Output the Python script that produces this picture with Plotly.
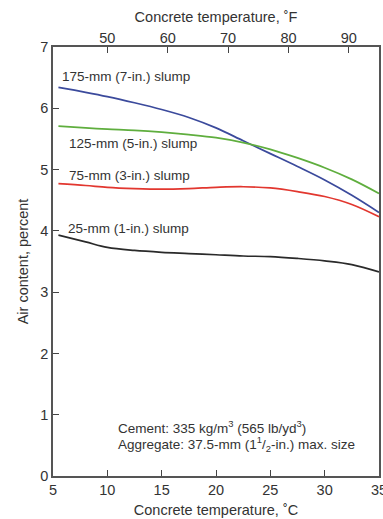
import plotly.graph_objects as go

temp_c = [5.5, 8, 10, 12.5, 15, 17.5, 20, 22.5, 25, 27.5, 30, 32.5, 35]
slump_175 = [6.34, 6.26, 6.19, 6.09, 5.98, 5.85, 5.68, 5.47, 5.26, 5.05, 4.83, 4.58, 4.30]
slump_125 = [5.71, 5.68, 5.66, 5.64, 5.61, 5.57, 5.52, 5.44, 5.33, 5.19, 5.03, 4.84, 4.61]
slump_75 = [4.77, 4.74, 4.71, 4.69, 4.68, 4.69, 4.71, 4.72, 4.70, 4.64, 4.56, 4.43, 4.23]
slump_25 = [3.93, 3.82, 3.73, 3.68, 3.65, 3.63, 3.61, 3.59, 3.58, 3.55, 3.51, 3.45, 3.33]

series_names = ["175-mm (7-in.) slump", "125-mm (5-in.) slump", "75-mm (3-in.) slump", "25-mm (1-in.) slump"]
series_vals = [slump_175, slump_125, slump_75, slump_25]
series_colors = ["#3b4a9c", "#5fae3e", "#e2372f", "#2a2a2a"]
label_pos = [(5.8, 6.52), (6.5, 5.43), (6.5, 4.91), (6.4, 4.04)]

c_ticks = [5, 10, 15, 20, 25, 30, 35]
f_ticks = [50, 60, 70, 80, 90]
y_ticks = [0, 1, 2, 3, 4, 5, 6, 7]

font = "Liberation Sans, Arial, sans-serif"
fig = go.Figure()
for name, vals, col in zip(series_names, series_vals, series_colors):
    fig.add_trace(go.Scatter(x=temp_c, y=vals, mode="lines", name=name,
                             line=dict(color=col, width=1.7, shape="spline", smoothing=1.0),
                             showlegend=False, hoverinfo="skip"))

# dummy trace for top axis
fig.add_trace(go.Scatter(x=[41, 95], y=[None, None], xaxis="x2", yaxis="y",
                         mode="lines", showlegend=False, hoverinfo="skip"))

for name, (lx, ly) in zip(series_names, label_pos):
    fig.add_annotation(x=lx, y=ly, text=name, showarrow=False, xanchor="left",
                       yanchor="middle", xshift=-2, font=dict(size=13.5, color="#333", family=font))

fig.add_annotation(x=11.0, y=0.80, text="Cement: 335 kg/m<sup>3</sup> (565 lb/yd<sup>3</sup>)",
                   showarrow=False, xanchor="left", yanchor="middle", xshift=-2,
                   font=dict(size=13.5, color="#333", family=font))
fig.add_annotation(x=11.0, y=0.53, text="Aggregate: 37.5-mm (1<sup>1</sup>/<sub>2</sub>-in.) max. size",
                   showarrow=False, xanchor="left", yanchor="middle", xshift=-2,
                   font=dict(size=13.5, color="#333", family=font))

fig.update_layout(
    width=383, height=519,
    margin=dict(l=53, r=4, t=47, b=43),
    paper_bgcolor="white", plot_bgcolor="white",
    font=dict(family=font, size=14.5, color="#333"),
    xaxis=dict(range=[5, 35], tickvals=c_ticks, ticks="inside", ticklen=6, tickwidth=1.2,
               tickcolor="#444", showline=True, linecolor="#555", linewidth=1.5, mirror=True,
               showgrid=False, zeroline=False, automargin=False, ticklabeloverflow="allow",
               title=dict(text="Concrete temperature, ˚C", font=dict(size=14.5), standoff=8)),
    xaxis2=dict(range=[41, 95], overlaying="x", side="top", tickvals=f_ticks, ticks="inside",
                ticklen=6, tickwidth=1.2, tickcolor="#444", showline=False, showgrid=False,
                zeroline=False, anchor="y", automargin=False,
                title=dict(text="Concrete temperature, ˚F", font=dict(size=14.5), standoff=4)),
    yaxis=dict(range=[0, 7], tickvals=y_ticks, ticks="inside", ticklen=6, tickwidth=1.2,
               tickcolor="#444", showline=True, linecolor="#555", linewidth=1.5, mirror=True,
               showgrid=False, zeroline=False, automargin=False,
               title=dict(text="Air content, percent", font=dict(size=14.5), standoff=8)),
)

fig.write_html("out.html", config={"displayModeBar": False},
               post_script="document.body.style.margin='0';document.body.style.overflow='hidden';")
